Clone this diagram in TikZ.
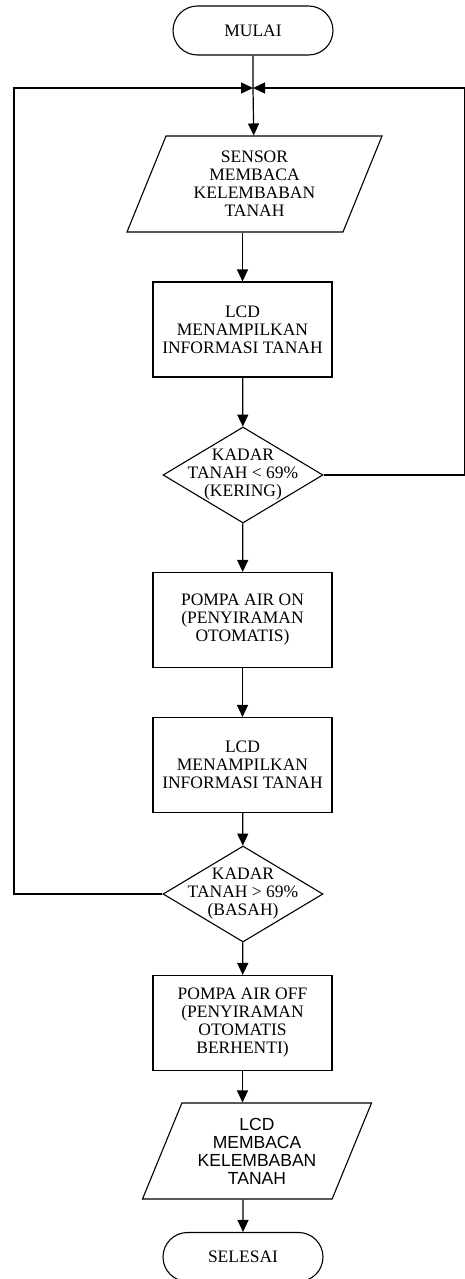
\documentclass[tikz,border=0pt]{standalone}
\usepackage{fontspec}
\setmainfont{Liberation Serif}
\newfontfamily\arialfont{Liberation Sans}
\usepackage{tikz}
\usetikzlibrary{positioning, shapes.geometric, shapes.misc, arrows.meta}
\newcommand{\flowfont}{\fontsize{17.5}{18}\selectfont}
\tikzset{
	terminal/.style={draw, line width=1.1pt, rounded rectangle, minimum width=160pt, minimum height=49pt, inner sep=0pt, font=\flowfont}
}
\tikzset{
	procbox/.style={draw, line width=1.1pt, rectangle, minimum width=179pt, minimum height=95pt, inner sep=2pt, align=center, font=\flowfont}
}
\tikzset{
	iobox/.style={draw, line width=1.1pt, trapezium, trapezium left angle=60, trapezium right angle=120,
		trapezium stretches body, minimum height=96pt, inner sep=1pt, align=center, font=\flowfont}
}
\tikzset{
	decision/.style={draw, line width=1.1pt, diamond, minimum width=160pt, minimum height=96pt, inner sep=0pt},
	dectext/.style={align=center, inner sep=0pt, font=\flowfont}
}
\tikzset{
	flowline/.style={line width=1.2pt},
	flowarrow/.style={line width=1.2pt, -{Triangle[length=12pt,width=11pt]}}
}

\begin{document}
\begin{tikzpicture}[x=1pt, y=-1pt, line join=miter]
      \useasboundingbox (0,0) rectangle (465,1279);
      \node[terminal] (start) at (253,30.5) {MULAI};
      \coordinate (join) at (253,88);
      \coordinate (loopl) at (14,88);
      \coordinate (loopr) at (465,88);
      \node[iobox, minimum width=255pt] (sensor) at (254.5,184) {SENSOR\\MEMBACA\\KELEMBABAN\\TANAH};
      \node[procbox] (lcdinfo) at (242.5,329.5) {LCD\\MENAMPILKAN\\INFORMASI TANAH};
      \node[decision] (cekkering) at (243,475) {};
      \node[dectext] (cekkeringtxt) at (cekkering) {KADAR\\TANAH < 69\%\\(KERING)};
      \node[procbox] (pompaon) at (242.5,620) {POMPA AIR ON\\(PENYIRAMAN\\OTOMATIS)};
      \node[procbox] (lcdinfob) at (242.5,765) {LCD\\MENAMPILKAN\\INFORMASI TANAH};
      \node[decision] (cekbasah) at (243,894) {};
      \node[dectext] (cekbasahtxt) at (cekbasah) {KADAR\\TANAH > 69\%\\(BASAH)};
      \node[procbox] (pompaoff) at (242.5,1023) {POMPA AIR OFF\\(PENYIRAMAN\\OTOMATIS\\BERHENTI)};
      \node[iobox, minimum width=229pt, font=\flowfont\arialfont] (lcdbaca) at (257,1151) {LCD\\MEMBACA\\KELEMBABAN\\TANAH};
      \node[terminal] (selesai) at (243,1257) {SELESAI};
      % main column
      \draw[flowline] (start) -- (join);
      \draw[flowarrow] (join) -- (sensor);
      \draw[flowarrow] (lcdinfo |- sensor.south) -- (lcdinfo);
      \foreach \a/\b in {lcdinfo/cekkering, cekkering/pompaon, pompaon/lcdinfob,
        lcdinfob/cekbasah, cekbasah/pompaoff}
        \draw[flowarrow] (\a) -- (\b);
      \draw[flowarrow] (pompaoff) -- (pompaoff |- lcdbaca.north);
      \draw[flowarrow] (selesai |- lcdbaca.south) -- (selesai);
      % loops back to the top
      \draw[flowarrow] (cekkering.east) -| (loopr) -- (join);
      \draw[flowarrow] (cekbasah.west) -| (loopl) -- (join);
\end{tikzpicture}
\end{document}
